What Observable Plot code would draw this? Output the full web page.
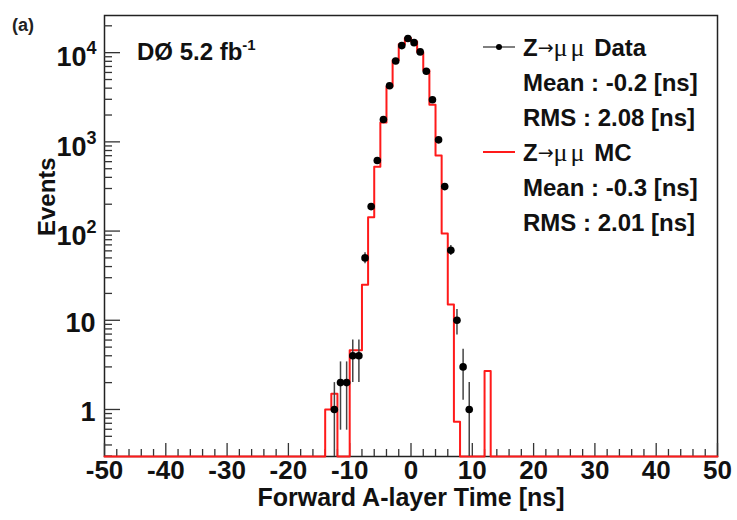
<!DOCTYPE html>
<html><head><meta charset="utf-8">
<script src="https://cdn.jsdelivr.net/npm/d3@7"></script>
<script src="https://cdn.jsdelivr.net/npm/@observablehq/plot@0.6"></script>
<style>body{margin:0;background:#fff} svg{display:block;background:#fff}</style>
</head><body><div id="chart"></div>
<script>
// ---- data ----
const dataTime   = [-12.5,-11.5,-10.5,-9.5,-8.5,-7.5,-6.5,-5.5,-4.5,-3.5,-2.5,-1.5,-0.5,0.5,1.5,2.5,3.5,4.5,5.5,6.5,7.5,8.5,9.5];
const dataEvents = [1,2,2,4,4,50,188,617,1780,4260,8050,12000,14400,12950,10200,6200,2965,1053,315,61,10,3,1];
const mcEdges  = [-14,-13,-12,-11,-10,-9,-8,-7,-6,-5,-4,-3,-2,-1,0,1,2,3,4,5,6,7,8,9,10,11,12,13];
const mcEvents = [1.0,1.5,0,0,4.6,4.6,25,143,527,1650,4180,8200,12400,14600,13300,10200,6350,2600,705,94,15,0.73,0,0,0,0,2.7];
const xRange = [-50, 50];
const xTickLabels = [-50,-40,-30,-20,-10,0,10,20,30,40,50];
const yTickValues = [1,10,100,1000,10000];
const yTickBase   = ["1","10","10","10","10"];
const yTickExp    = ["","","2","3","4"];
const legendData  = ["Mean : -0.2 [ns]","RMS : 2.08 [ns]"];
const legendMC    = ["Mean : -0.3 [ns]","RMS : 2.01 [ns]"];
const xTitle = "Forward A-layer Time [ns]";
const yTitle = "Events";

// ---- layout ----
const FONT = "'Liberation Sans', Arial, Helvetica, sans-serif";
const W = 737, H = 520, mL = 104, mR = 20, mT = 15, mB = 64;
const fw = W - mL - mR, fh = H - mT - mB;
const yMin = 0.297, yMax = 26100;
const clamp = v => Math.max(v, yMin);

// derived tables
const pts = dataTime.map((t, i) => {
  const n = dataEvents[i], e = Math.sqrt(n);
  return {t, n, lo: clamp(n - e), hi: n + e};
});
const mcStep = [{x: xRange[0], y: yMin}];
mcEdges.slice(0, -1).forEach((e, i) => mcStep.push({x: e, y: clamp(mcEvents[i])}));
mcStep.push({x: mcEdges[mcEdges.length - 1], y: yMin});
mcStep.push({x: xRange[1], y: yMin});

const yMajor = yTickValues;
const yMinor = [];
for (let d = -1; d <= 4; d++) for (let k = 2; k <= 9; k++) {
  const v = k * Math.pow(10, d);
  if (v >= 0.3 && v <= yMax) yMinor.push(v);
}
const xMajor = d3.range(xRange[0], xRange[1] + 1, 10);
const xMinor = d3.range(xRange[0], xRange[1] + 1, 2).filter(v => v % 10 !== 0);
const yLab = yTickValues.map((v, i) => ({v, base: yTickBase[i], exp: yTickExp[i]}));

const tickColor = "#333";
const plot = Plot.plot({
  width: W, height: H,
  marginLeft: mL, marginRight: mR, marginTop: mT, marginBottom: mB,
  style: {fontFamily: FONT, background: "#fff"},
  x: {domain: xRange, axis: null},
  y: {type: "log", domain: [yMin, yMax], axis: null},
  marks: [
    Plot.frame({stroke: "#222", strokeWidth: 1.5}),
    Plot.tickY(yMajor, {y: d => d, insetRight: fw - 16, stroke: tickColor, strokeWidth: 1.3}),
    Plot.tickY(yMinor, {y: d => d, insetRight: fw - 8, stroke: tickColor, strokeWidth: 1.3}),
    Plot.tickX(xMajor, {x: d => d, insetTop: fh - 13, stroke: tickColor, strokeWidth: 1.3}),
    Plot.tickX(xMinor, {x: d => d, insetTop: fh - 7, stroke: tickColor, strokeWidth: 1.3}),
    Plot.line(mcStep, {x: "x", y: "y", curve: "step-after", stroke: "#ff1a1a", strokeWidth: 2}),
    Plot.ruleX(pts, {x: "t", y1: "lo", y2: "hi", stroke: "#444", strokeWidth: 1.5}),
    Plot.dot(pts, {x: "t", y: "n", r: 3.8, fill: "#000", stroke: "none"}),
    // x tick labels
    Plot.text(xTickLabels, {x: d => d, text: d => String(d), frameAnchor: "bottom", lineAnchor: "middle", dy: 14,
      fontSize: 26, fontWeight: "bold", fill: "#111"}),
    // y tick labels
    Plot.text(yLab.filter(d => !d.exp), {y: "v", text: "base", frameAnchor: "left", textAnchor: "end",
      dx: -9, dy: 3, fontSize: 27, fontWeight: "bold", fill: "#111"}),
    Plot.text(yLab.filter(d => d.exp), {y: "v", text: "base", frameAnchor: "left", textAnchor: "end",
      dx: -18, dy: 5, fontSize: 27, fontWeight: "bold", fill: "#111"}),
    Plot.text(yLab.filter(d => d.exp), {y: "v", text: "exp", frameAnchor: "left", textAnchor: "end",
      dx: -8, dy: -4, fontSize: 18, fontWeight: "bold", fill: "#111"}),
    // axis titles
    Plot.text([xTitle], {frameAnchor: "bottom", lineAnchor: "middle", dy: 41, fontSize: 25, fontWeight: "bold", fill: "#111"}),
    Plot.text([yTitle], {frameAnchor: "left", dx: -57, rotate: -90, fontSize: 24, fontWeight: "bold", fill: "#111"})
  ]
});
document.getElementById("chart").appendChild(plot);

// ---- annotations & legend ----
const svg = d3.select(plot);
const ann = svg.append("g").attr("font-family", FONT).attr("font-weight", "bold").attr("fill", "#111")
  .attr("text-anchor", "start");
ann.append("text").attr("x", 12).attr("y", 31).attr("font-size", 18).attr("fill", "#222").text("(a)");
const dz = ann.append("text").attr("x", mL + 33).attr("y", 60).attr("font-size", 24);
dz.append("tspan").text("DØ 5.2 fb");
dz.append("tspan").attr("font-size", 15).attr("dy", -10).text("-1");

const lx = mL + 419, step = 35, y0 = 47;
function muLine(y, label) {
  const t = ann.append("text").attr("x", lx).attr("y", y + 8.5).attr("font-size", 24);
  t.append("tspan").text("Z");
  t.append("tspan").attr("font-family", "'DejaVu Sans', 'Liberation Serif', serif").attr("font-weight", "normal")
    .attr("font-size", 19).attr("dy", -2).text("→");
  t.append("tspan").attr("font-family", "'Liberation Serif', serif").attr("font-weight", "normal")
    .attr("font-size", 26).attr("dy", 2).attr("letter-spacing", 3).text("μμ");
  t.append("tspan").text(" " + label);
}
muLine(y0, "Data");
legendData.forEach((s, i) => ann.append("text").attr("x", lx).attr("y", y0 + step * (i + 1) + 8.5).attr("font-size", 24).text(s));
muLine(y0 + step * 3, "MC");
legendMC.forEach((s, i) => ann.append("text").attr("x", lx).attr("y", y0 + step * (i + 4) + 8.5).attr("font-size", 24).text(s));
ann.append("line").attr("x1", lx - 40).attr("x2", lx - 8).attr("y1", y0).attr("y2", y0).attr("stroke", "#555").attr("stroke-width", 1.5);
ann.append("circle").attr("cx", lx - 24).attr("cy", y0).attr("r", 3).attr("fill", "#000");
ann.append("line").attr("x1", lx - 40).attr("x2", lx - 8).attr("y1", y0 + step * 3).attr("y2", y0 + step * 3).attr("stroke", "#ff1a1a").attr("stroke-width", 2);
</script>
</body></html>
